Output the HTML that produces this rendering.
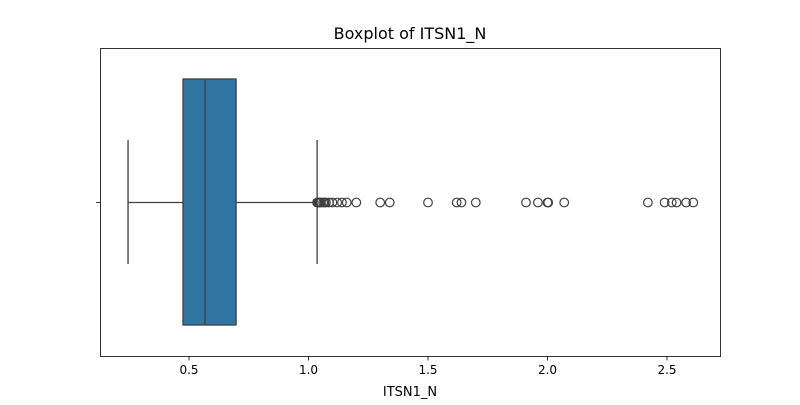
<!DOCTYPE html>
<html><head><meta charset="utf-8"><style>
body{margin:0;background:#fff;}
text{font-family:"DejaVu Sans","Liberation Sans",sans-serif;fill:#000;}
</style></head><body>
<svg id="chart" width="800" height="400" xmlns="http://www.w3.org/2000/svg">
<text x="410" y="39" text-anchor="middle" font-size="16">Boxplot of ITSN1_N</text>
<rect x="100.5" y="48.5" width="620" height="308" fill="none" stroke="#000" stroke-width="0.8"/>
<g id="marks"></g>
<g id="axis"></g>
<line x1="96" x2="100" y1="202.5" y2="202.5" stroke="#000" stroke-width="0.8"/>
<text x="410" y="396" text-anchor="middle" font-size="13">ITSN1_N</text>
</svg>
<script>
const stats=[0.245,0.475,0.567,0.697,1.036];
const outliers=[1.036,1.04,1.044,1.048,1.052,1.061,1.067,1.073,1.086,1.10,1.12,1.14,1.16,1.20,1.30,1.34,1.50,1.62,1.64,1.70,1.91,1.96,2.00,2.003,2.07,2.42,2.49,2.52,2.54,2.58,2.61];
const ticks=[0.5,1.0,1.5,2.0,2.5];
const tickLabels=["0.5","1.0","1.5","2.0","2.5"];
const NS="http://www.w3.org/2000/svg";
const X=v=>189+(v-0.5)*239;
const cy=202.5,bt=79,bb=325,ct=140,cb=264;
const m=document.getElementById('marks'),ax=document.getElementById('axis');
function mk(tag,at,p){const e=document.createElementNS(NS,tag);for(const k in at)e.setAttribute(k,at[k]);p.appendChild(e);return e;}
let e;
e=mk('line',{x1:X(stats[0]),x2:X(stats[1]),y1:cy,y2:cy,stroke:'#3f3f3f','stroke-width':1.3},m);


e=mk('line',{x1:X(stats[3]),x2:X(stats[4]),y1:cy,y2:cy,stroke:'#3f3f3f','stroke-width':1.3},m);


e=mk('line',{x1:X(stats[0]),x2:X(stats[0]),y1:ct,y2:cb,stroke:'#3f3f3f','stroke-width':1.3},m);


e=mk('line',{x1:X(stats[4]),x2:X(stats[4]),y1:ct,y2:cb,stroke:'#3f3f3f','stroke-width':1.3},m);


e=mk('rect',{x:X(stats[1]),y:bt,width:X(stats[3])-X(stats[1]),height:bb-bt,fill:'#3274a1',stroke:'#3f3f3f','stroke-width':1.3},m);


e=mk('line',{x1:X(stats[2]),x2:X(stats[2]),y1:bt,y2:bb,stroke:'#3f3f3f','stroke-width':1.3},m);


outliers.forEach(v=>{const c=mk('circle',{cx:X(v),cy:cy,r:4.3,fill:'none',stroke:'#3f3f3f','stroke-width':1.2},m);

});
ticks.forEach((t,i)=>{const l=mk('line',{x1:X(t),x2:X(t),y1:356.5,y2:360.5,stroke:'#000','stroke-width':0.8},ax);


const tx=mk('text',{x:X(t),y:374,'text-anchor':'middle','font-size':12},ax);tx.textContent=tickLabels[i];

});
</script>
</body></html>
